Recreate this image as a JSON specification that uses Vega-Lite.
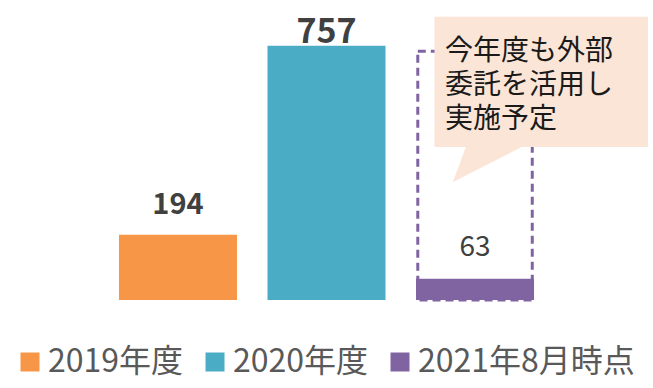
{
  "$schema": "https://vega.github.io/schema/vega-lite/v6.json",
  "width": 653,
  "height": 388,
  "padding": 0,
  "autosize": {"type": "none"},
  "background": "white",
  "config": {"view": {"stroke": null}, "font": "Noto Sans CJK JP"},
  "data": {"values": [
    {"year": "2019年度", "value": 194},
    {"year": "2020年度", "value": 757},
    {"year": "2021年8月時点", "value": 63}
  ]},
  "resolve": {"scale": {"x": "independent"}},
  "layer": [
    {
      "layer": [
        {
          "transform": [{"filter": {"field": "year", "equal": "2021年8月時点"}}],
          "mark": {"type": "bar", "fillOpacity": 0, "stroke": "#8064A2", "strokeWidth": 3, "strokeDash": [8, 5], "width": {"band": 0.97}},
          "encoding": {
            "x": {"field": "year", "type": "nominal", "axis": null, "scale": {"domain": ["2019年度", "2020年度", "2021年8月時点"], "paddingInner": 0.2054, "paddingOuter": 0.801}},
            "y": {"datum": 740.6, "type": "quantitative", "axis": null, "scale": {"domain": [-262, 893], "nice": false, "zero": false}},
            "y2": {"datum": 0}
          }
        },
        {
          "mark": {"type": "bar"},
          "encoding": {
            "x": {"field": "year", "type": "nominal", "axis": null, "scale": {"domain": ["2019年度", "2020年度", "2021年8月時点"], "paddingInner": 0.2054, "paddingOuter": 0.801}},
            "y": {"field": "value", "type": "quantitative", "axis": null, "scale": {"domain": [-262, 893], "nice": false, "zero": false}},
            "y2": {"datum": 0},
            "color": {
              "field": "year", "type": "nominal",
              "scale": {"domain": ["2019年度", "2020年度", "2021年8月時点"], "range": ["#F79646", "#4BACC6", "#8064A2"]},
              "legend": {
                "orient": "none", "legendX": 14, "legendY": 346, "direction": "horizontal", "title": null,
                "symbolType": "square", "symbolSize": 361, "symbolStrokeWidth": 0, "symbolOpacity": 1,
                "labelFontSize": 32, "labelFont": "Noto Sans CJK JP", "labelColor": "#595959", "labelLimit": 400,
                "labelOffset": 2, "columnPadding": 15, "padding": 0
              }
            }
          }
        },
        {
          "transform": [{"filter": {"field": "year", "equal": "2019年度"}}],
          "mark": {"type": "text", "fontSize": 29, "fontWeight": "bold", "color": "#404040", "baseline": "alphabetic", "dy": -21},
          "encoding": {
            "x": {"field": "year", "type": "nominal", "axis": null, "scale": {"domain": ["2019年度", "2020年度", "2021年8月時点"], "paddingInner": 0.2054, "paddingOuter": 0.801}},
            "y": {"field": "value", "type": "quantitative", "axis": null, "scale": {"domain": [-262, 893], "nice": false, "zero": false}},
            "text": {"field": "value", "type": "quantitative"}
          }
        },
        {
          "transform": [{"filter": {"field": "year", "equal": "2020年度"}}],
          "mark": {"type": "text", "fontSize": 34, "fontWeight": "bold", "color": "#404040", "baseline": "alphabetic", "dy": -3},
          "encoding": {
            "x": {"field": "year", "type": "nominal", "axis": null, "scale": {"domain": ["2019年度", "2020年度", "2021年8月時点"], "paddingInner": 0.2054, "paddingOuter": 0.801}},
            "y": {"field": "value", "type": "quantitative", "axis": null, "scale": {"domain": [-262, 893], "nice": false, "zero": false}},
            "text": {"field": "value", "type": "quantitative"}
          }
        },
        {
          "transform": [{"filter": {"field": "year", "equal": "2021年8月時点"}}],
          "mark": {"type": "text", "fontSize": 28, "fontWeight": "normal", "color": "#404040", "baseline": "alphabetic", "dy": -23},
          "encoding": {
            "x": {"field": "year", "type": "nominal", "axis": null, "scale": {"domain": ["2019年度", "2020年度", "2021年8月時点"], "paddingInner": 0.2054, "paddingOuter": 0.801}},
            "y": {"field": "value", "type": "quantitative", "axis": null, "scale": {"domain": [-262, 893], "nice": false, "zero": false}},
            "text": {"field": "value", "type": "quantitative"}
          }
        }
      ]
    },
    {
      "data": {"values": [{"note": "callout"}]},
      "layer": [
        {
          "mark": {"type": "rect", "color": "#FBE5D6"},
          "encoding": {
            "x": {"datum": 1.7271, "type": "quantitative", "axis": null, "scale": {"domain": [-1.1985, 3.1982], "nice": false, "zero": false}},
            "x2": {"datum": 3.1646},
            "y": {"datum": 843.4, "type": "quantitative", "axis": null, "scale": {"domain": [-262, 893], "nice": false, "zero": false}},
            "y2": {"datum": 455.5}
          }
        },
        {
          "mark": {"type": "point", "shape": "M-0.605,-0.56L1,-0.56L-0.974,0.447Z", "size": 5776, "filled": true, "opacity": 1, "color": "#FBE5D6", "strokeWidth": 0},
          "encoding": {
            "x": {"datum": 2.1007, "type": "quantitative", "axis": null, "scale": {"domain": [-1.1985, 3.1982], "nice": false, "zero": false}},
            "y": {"datum": 401.9, "type": "quantitative", "axis": null, "scale": {"domain": [-262, 893], "nice": false, "zero": false}}
          }
        },
        {
          "mark": {"type": "text", "text": ["今年度も外部", "委託を活用し", "実施予定"], "fontSize": 28, "lineHeight": 34, "align": "left", "baseline": "top", "color": "#1a1a1a"},
          "encoding": {
            "x": {"datum": 1.7977, "type": "quantitative", "axis": null, "scale": {"domain": [-1.1985, 3.1982], "nice": false, "zero": false}},
            "y": {"datum": 781, "type": "quantitative", "axis": null, "scale": {"domain": [-262, 893], "nice": false, "zero": false}}
          }
        }
      ]
    }
  ]
}
